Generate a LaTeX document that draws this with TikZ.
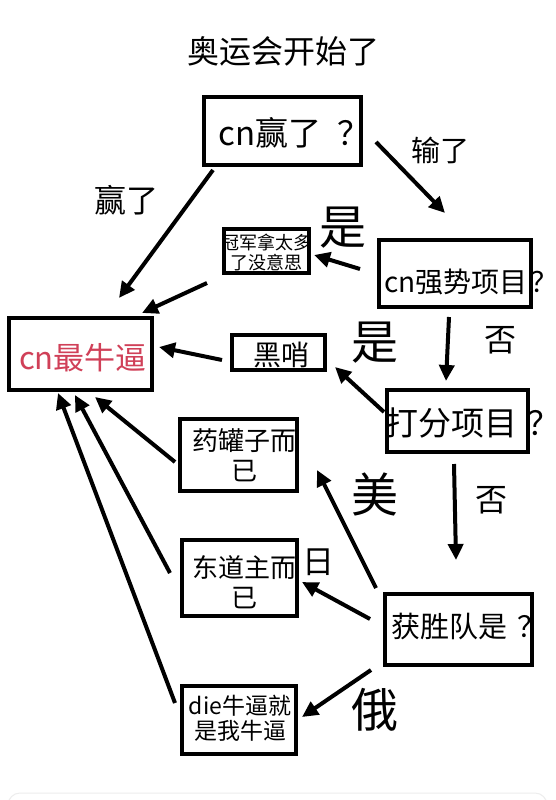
\documentclass[tikz,border=0pt]{standalone}
\usepackage{fontspec}
\setmainfont{Noto Sans CJK SC}
\usetikzlibrary{arrows.meta,calc}
\definecolor{cnred}{RGB}{208,64,88}
\newcommand{\fsz}[2]{\fontsize{#1}{#2}\selectfont}
\newcommand{\qm}[1]{\hspace{#1}？}
\tikzset{
  box/.style={draw, line width=4pt, inner sep=0pt, rectangle},
  arr/.style={line width=4pt, -{Triangle[length=16pt,width=15pt]}},
  txt/.style={inner sep=0pt, align=center},
}
\begin{document}
\begin{tikzpicture}[x=1pt,y=-1pt]
\useasboundingbox[fill=white] (0,0) rectangle (555,800);

% faint screenshot edge at the bottom
\draw[black!7, line width=1pt, rounded corners=12pt] (8,815) -- (8,793) -- (547,793) -- (547,815);

% title
\node[txt, font=\fsz{32}{36}] (title) at (283,51) {奥运会开始了};

% texts
\node[txt, font=\fsz{33}{38}, anchor=west] (tA) at (218,133) {cn赢了\qm{0.5em}};
\node[txt, font=\fsz{28}{32}, anchor=west] (tB) at (384,282) {cn强势项目\qm{0.1em}};
\node[txt, font=\fsz{31}{34}, text=cnred] (tD) at (83,358) {cn最牛逼};
\node[txt, font=\fsz{28}{32}] (tE) at (281,355) {黑哨};
\node[txt, font=\fsz{33}{36}, anchor=west] (tF) at (385,423) {打分项目\qm{0.3em}};
\node[txt, font=\fsz{26}{30}] (tG) at (244,455) {药罐子而\\已};
\node[txt, font=\fsz{29}{32}, anchor=west] (tH) at (391,627) {获胜队是\qm{0.35em}};
\node[txt, font=\fsz{26}{30}] (tI) at (244,582) {东道主而\\已};
\node[txt, font=\fsz{23}{25}] (tJ) at (240,718) {die牛逼就\\是我牛逼};
\begin{scope}
  \clip (224,229) rectangle (309,273);
  \node[txt, font=\fsz{18}{20}] (tC) at (266,252) {冠军拿太多\\了没意思};
\end{scope}

% boxes
\node[box, minimum width=157pt, minimum height=68pt] (bA) at (282.5,131) {};
\node[box, minimum width=152pt, minimum height=67pt] (bB) at (455,273.5) {};
\node[box, minimum width=85pt,  minimum height=44pt] (bC) at (266.5,251) {};
\node[box, minimum width=143pt, minimum height=72pt] (bD) at (80.5,354) {};
\node[box, minimum width=93pt,  minimum height=35pt] (bE) at (278.5,352.5) {};
\node[box, minimum width=141pt, minimum height=62pt] (bF) at (457.5,421) {};
\node[box, minimum width=117pt, minimum height=72pt] (bG) at (238.5,455) {};
\node[box, minimum width=147pt, minimum height=71pt] (bH) at (458.5,629.5) {};
\node[box, minimum width=115pt, minimum height=76pt] (bI) at (239.5,578) {};
\node[box, minimum width=114pt, minimum height=68pt] (bJ) at (239,720) {};

% edge labels
\node[txt, font=\fsz{29}{32}] (lLose) at (440,150) {输了};
\node[txt, font=\fsz{32}{36}] (lWin) at (126,200) {赢了};
\node[txt, font=\fsz{47}{50}] (lYes1) at (343,228) {是};
\node[txt, font=\fsz{47}{50}] (lYes2) at (375,343) {是};
\node[txt, font=\fsz{32}{36}] (lNo1) at (500,340) {否};
\node[txt, font=\fsz{32}{36}] (lNo2) at (491,500) {否};
\node[txt, font=\fsz{47}{50}] (lUS) at (375,494) {美};
\node[txt, font=\fsz{32}{36}] (lJP) at (318,562) {日};
\node[txt, font=\fsz{47}{50}] (lRU) at (375,710) {俄};

% connectors
\draw[arr] ($(bA.south west)+(11,3)$) -- ($(bD.north)+(38.5,-18)$);
\draw[arr] ($(bA.east)+(13,11)$) -- ($(bB.north)+(-10,-25)$);
\draw[arr] ($(bB.west)+(-17,-4.5)$) -- ($(bC.east)+(3,4)$);
\draw[arr] ($(bC.south west)+(-15,8)$) -- ($(bD.north east)+(-12,-3)$);
\draw[arr] ($(bB.south)+(-6,8)$) -- ($(bF.north)+(-11.5,-7)$);
\draw[arr] ($(bF.west)+(-1,-9)$) -- ($(bE.south east)+(8,-5)$);
\draw[arr] ($(bE.west)+(-8,7.5)$) -- ($(bD.east)+(5,-7)$);
\draw[arr] ($(bF.south)+(-3.5,10)$) -- ($(bH.north)+(-2.5,-32)$);
\draw[arr] ($(bH.north west)+(-7,-4)$) -- ($(bG.south east)+(18,-23)$);
\draw[arr] ($(bH.west)+(-13,-10.5)$) -- ($(bI.east)+(3,4)$);
\draw[arr] ($(bH.south west)+(-12,3)$) -- ($(bJ.east)+(4,-3)$);
\draw[arr] ($(bG.west)+(-3,7)$) -- ($(bD.south)+(14.5,5)$);
\draw[arr] ($(bI.west)+(-10,-5)$) -- ($(bD.south)+(-5.5,3)$);
\draw[arr] ($(bJ.west)+(-5,-17)$) -- ($(bD.south)+(-22.5,1)$);
\end{tikzpicture}
\end{document}
